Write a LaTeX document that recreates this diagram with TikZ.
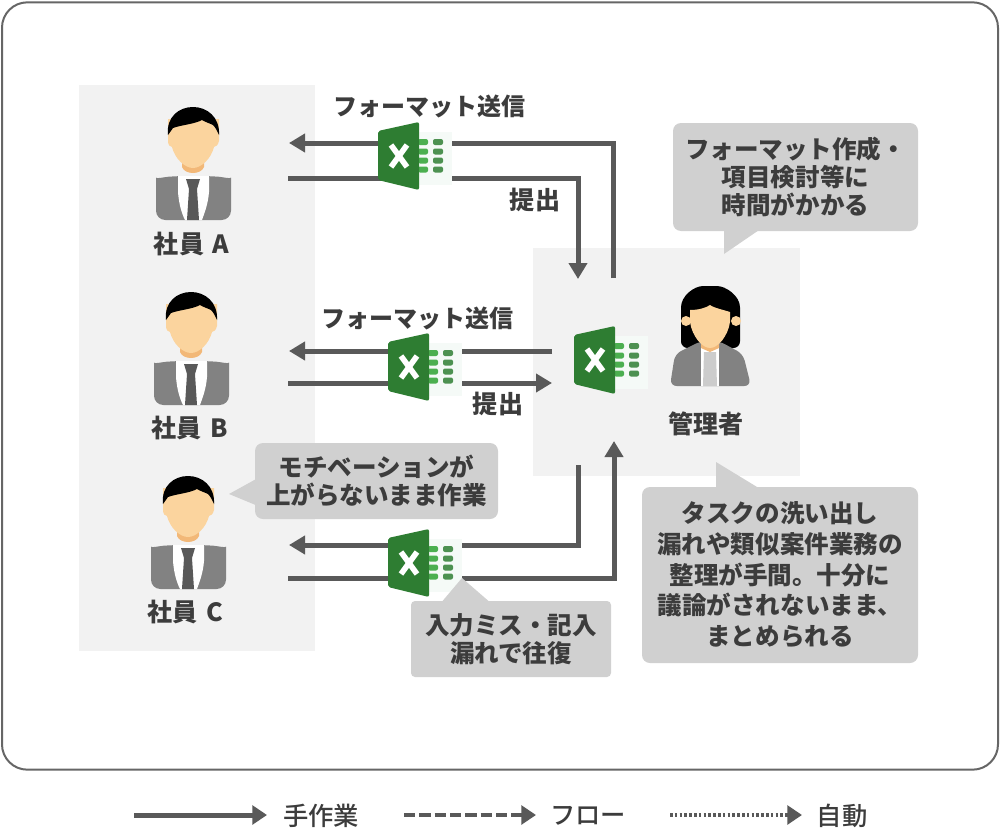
\documentclass[tikz,border=0pt]{standalone}
\usepackage{fontspec}
\setmainfont{Noto Sans CJK JP}
\newfontfamily\jpmed{Noto Sans CJK JP Medium}
\usetikzlibrary{arrows.meta}
\definecolor{ink}{HTML}{3C3C3C}
\definecolor{line}{HTML}{595959}
\definecolor{panel}{HTML}{F2F2F2}
\definecolor{bubble}{HTML}{D0D0D0}
\definecolor{frame}{HTML}{666666}
\definecolor{xlgreen}{HTML}{2E7D32}
\definecolor{xllight}{HTML}{4CAF50}
\definecolor{xlsheet}{HTML}{F5FAF7}
\definecolor{skin}{HTML}{FBD49E}
\definecolor{neck}{HTML}{F2B878}
\definecolor{suit}{HTML}{828282}
\tikzset{
  flow/.style={draw=line,line width=3.75pt,-{Triangle[length=12pt,width=13.5pt]}},
  lbl/.style={text=ink,font=\fontsize{18}{21}\selectfont\bfseries,align=center,inner sep=0pt},
  biglbl/.style={lbl,font=\fontsize{18.8}{21}\selectfont\bfseries},
  keylbl/.style={lbl,font=\fontsize{19}{21}\selectfont\jpmed},
  callout/.style={fill=bubble,rounded corners=6pt,text=ink,font=\fontsize{18.4}{21.3}\selectfont\bfseries,align=center,inner sep=0pt},
  tail/.style={fill=bubble,draw=none},
  man/.pic={
    \fill[suit,rounded corners=7pt] (-37,113) -- (-37,80) .. controls (-37,72) and (-28,70) .. (-15,69) -- (16,69) .. controls (29,70) and (38,72) .. (38,80) -- (38,113) -- cycle;
    \fill[white] (-15,69) -- (16,69) -- (16,85) .. controls (15,98) and (11,107) .. (9,113) -- (-8,113) .. controls (-11,107) and (-14,98) .. (-15,85) -- cycle;
    \fill[line] (-7,72) -- (7,72) -- (4,82) -- (6,113) -- (-6,113) -- (-4,82) -- cycle;
    \fill[neck] (-11,50) -- (11,50) -- (11,60) .. controls (8,68) and (-8,68) .. (-11,60) -- cycle;
    \fill[skin] (-25,12) -- (26,12) -- (26,34) .. controls (25,38) and (23,40) .. (21,40) .. controls (18,52) and (8,61) .. (0,61) .. controls (-8,61) and (-18,52) .. (-21,40) .. controls (-23,40) and (-25,38) .. (-25,34) -- cycle;
    \fill[black] (-25,28) .. controls (-27,10) and (-14,0) .. (0,0) .. controls (14,0) and (27,10) .. (26,28) .. controls (24,24) and (23,21) .. (20,18) .. controls (16,16) and (12,15) .. (9,13) .. controls (2,17) and (-12,18) .. (-20,21) -- cycle;
  },
  woman/.pic={
    \fill[black,rounded corners=5pt] (-29,62) -- (-29,28) .. controls (-29,10) and (-16,0) .. (0,0) .. controls (16,0) and (30,10) .. (30,28) -- (30,62) -- cycle;
    \fill[suit,rounded corners=5pt] (-40,100) -- (-35,68) -- (-9,55) -- (9,55) -- (33,68) -- (41,100) -- cycle;
    \fill[white] (-9,57) -- (9,57) -- (9,100) -- (-9,100) -- cycle;
    \fill[black!20] (-6,66) -- (6,66) -- (7,100) -- (-7,100) -- cycle;
    \fill[neck] (-9,50) -- (9,50) -- (9,62) -- (0,66) -- (-9,62) -- cycle;
    \fill[skin] (-24,35) circle[radius=5];
    \fill[skin] (26,35) circle[radius=5];
    \fill[skin] (-20,24) .. controls (-12,24) and (-4,22) .. (0,19) .. controls (4,22) and (14,24) .. (20,26) -- (20,36) .. controls (18,50) and (8,62) .. (0,62) .. controls (-8,62) and (-18,50) .. (-20,36) -- cycle;
  },
  excel/.pic={
    \fill[xlsheet] (40,10) rectangle (74,63);
    \foreach \r in {20,29.5,38.5,47.5} {
      \fill[xllight,rounded corners=1.5pt] (40,\r-3) rectangle (50,\r+3);
      \fill[xlgreen!85!white,rounded corners=1.5pt] (55,\r-3) rectangle (65,\r+3);
    }
    \fill[xlgreen,rounded corners=1.5pt] (0,9) -- (41,0) -- (41,68) -- (0,58) -- cycle;
    \draw[white,line width=4.2pt] (13,23) -- (29,45) (29,23) -- (13,45);
  }
}
\begin{document}
\begin{tikzpicture}[x=0.75pt,y=-0.75pt]
\useasboundingbox (0,0) rectangle (1000,828);
\fill[white] (0,0) rectangle (1000,828);
\node[draw=frame,line width=1.5pt,rounded corners=19pt,minimum width=747pt,minimum height=575.5pt,inner sep=0pt] (frame) at (500,386) {};
\node[fill=panel,minimum width=177pt,minimum height=424.5pt,inner sep=0pt] (staffpanel) at (197,368) {};
\node[fill=panel,minimum width=200.25pt,minimum height=171pt,inner sep=0pt] (mgrpanel) at (666.5,362) {};

% connector end points
\coordinate (a1s) at (613,278); \coordinate (a1c) at (613,143); \coordinate (a1e) at (289,143);
\coordinate (a2s) at (288,178); \coordinate (a2c) at (578,178); \coordinate (a2e) at (578,279);
\coordinate (b1s) at (552,351); \coordinate (b1e) at (289,351);
\coordinate (b2s) at (288,383); \coordinate (b2e) at (552,383);
\coordinate (c1s) at (578,465); \coordinate (c1c) at (578,545); \coordinate (c1e) at (289,545);
\coordinate (c2s) at (288,578); \coordinate (c2c) at (614,578); \coordinate (c2e) at (614,441);
\draw[flow] (a1s) -- (a1c) -- (a1e);
\draw[flow] (a2s) -- (a2c) -- (a2e);
\draw[flow] (b1s) -- (b1e);
\draw[flow] (b2s) -- (b2e);
\draw[flow] (c1s) -- (c1c) -- (c1e);
\draw[flow] (c2s) -- (c2c) -- (c2e);

\pic (xa) at (378,122) {excel};
\pic (xb) at (388,333) {excel};
\pic (xc) at (388,529) {excel};
\pic (xm) at (574,326) {excel};

\pic (pa) at (193,107) {man};
\pic (pb) at (191,292) {man};
\pic (pc) at (188,476) {man};
\pic (pm) at (710,286) {woman};

\node[lbl] (t1) at (429,106) {フォーマット送信};
\node[lbl] (t2) at (417,318) {フォーマット送信};
\node[biglbl] (t3) at (535,200) {提出};
\node[biglbl] (t4) at (498,404) {提出};
\node[biglbl] (na) at (191.5,244) {社員\hspace{2pt} A};
\node[biglbl] (nb) at (189.5,428) {社員\hspace{2pt} B};
\node[biglbl] (nc) at (185.5,612) {社員\hspace{2pt} C};
\node[biglbl] (nm) at (706,424) {管理者};

\fill[tail] (724,254) -- (724,228) -- (762,228) -- cycle;
\node[callout,minimum width=183.75pt,minimum height=81pt] (c1) at (795.5,177) {\raisebox{1.5pt}{\parbox{183pt}{\centering フォーマット作成・\\項目検討等に\\時間がかかる}}};
\fill[tail] (229,494) -- (258,478) -- (258,506) -- cycle;
\node[callout,minimum width=182.25pt,minimum height=57pt] (c2) at (376.5,481) {モチベーションが\\上がらないまま作業};
\fill[tail] (716,462) -- (716,490) -- (762,490) -- cycle;
\node[callout,minimum width=207pt,minimum height=132pt,font=\fontsize{18.4}{23}\selectfont\bfseries] (c3) at (780,575) {タスクの洗い出し\\漏れや類似案件業務の\\整理が手間。十分に\\議論がされないまま、\\まとめられる};
\fill[tail] (462,578) -- (440,604) -- (492,604) -- cycle;
\node[callout,minimum width=150pt,minimum height=57pt,rounded corners=3pt] (c4) at (511,639) {入力ミス・記入\\漏れで往復};

% legend
\coordinate (l1s) at (134,815); \coordinate (l1e) at (267,815);
\coordinate (l2s) at (404,815); \coordinate (l2e) at (536,815);
\coordinate (l3s) at (670,815); \coordinate (l3e) at (802,815);
\draw[draw=line,line width=3.75pt,-{Triangle[length=11pt,width=14pt]}] (l1s) -- (l1e);
\draw[draw=line,line width=3pt,dash pattern=on 8.5pt off 3pt,-{Triangle[length=11pt,width=14pt]}] (l2s) -- (l2e);
\draw[draw=line,line width=3pt,dash pattern=on 2pt off 1.6pt,-{Triangle[length=11pt,width=14pt]}] (l3s) -- (l3e);
\node[keylbl] (k1) at (321,816) {手作業};
\node[keylbl] (k2) at (588,816) {フロー};
\node[keylbl] (k3) at (842,816) {自動};
\end{tikzpicture}
\end{document}
